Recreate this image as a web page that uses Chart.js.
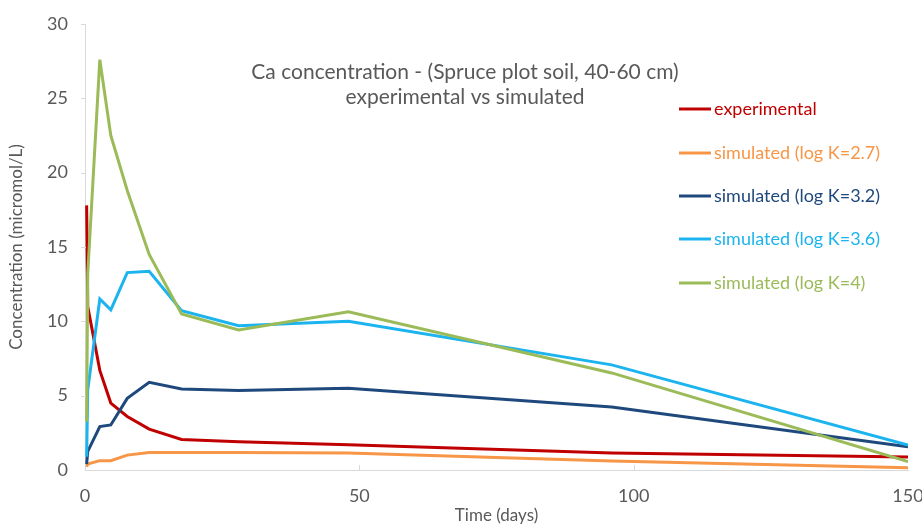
<!DOCTYPE html>
<html>
<head>
<meta charset="utf-8">
<script src="https://cdn.jsdelivr.net/npm/chart.js@4.4.1/dist/chart.umd.min.js"></script>
<style>
  html, body { margin: 0; padding: 0; background: #fff; }
  #wrap { width: 922px; height: 527px; }
</style>
</head>
<body>
<div id="wrap"><canvas id="lineChart" width="922" height="527"></canvas></div>
<script>
// --- donnees ---
var days = [0.3, 0.5, 2.7, 4.7, 7.7, 11.7, 17.6, 28, 48, 96, 150];
var experimental = [17.8, 11.0, 6.7, 4.5, 3.6, 2.75, 2.05, 1.9, 1.7, 1.15, 0.88];
var simLogK27 = [0.22, 0.4, 0.63, 0.63, 1.0, 1.17, 1.17, 1.17, 1.15, 0.6, 0.15];
var simLogK32 = [0.4, 1.25, 2.92, 3.03, 4.82, 5.9, 5.45, 5.34, 5.5, 4.24, 1.57];
var simLogK36 = [0.9, 5.4, 11.5, 10.77, 13.28, 13.37, 10.72, 9.71, 10.0, 7.07, 1.68];
var simLogK4 = [3.25, 13.2, 27.6, 22.5, 18.8, 14.5, 10.5, 9.42, 10.65, 6.53, 0.56];

var seriesLabels = ["experimental", "simulated (log K=2.7)", "simulated (log K=3.2)",
    "simulated (log K=3.6)", "simulated (log K=4)"];
var seriesColors = ["#C00000", "#F79646", "#1F497D", "#1CB4EE", "#9BBB59"];
var titleLines = ["Ca concentration - (Spruce plot soil, 40-60 cm)", "experimental vs simulated"];
var yTicks = [0, 5, 10, 15, 20, 25, 30];
var xTicks = [0, 50, 100, 150];

var FONT = "Lato";
var GREY = "#595959";

function points(values) {
    var pts = [];
    for (var i = 0; i < days.length; i++) {
        pts.push({ x: days[i], y: values[i] });
    }
    return pts;
}

function TraitGraph(label, values, color) {
    return {
        label: label,
        data: points(values),
        borderColor: color,
        backgroundColor: color,
        borderWidth: 3,
        pointRadius: 0,
        showLine: true,
        tension: 0,
        fill: false
    };
}

var allSeries = [experimental, simLogK27, simLogK32, simLogK36, simLogK4];
// ordre de dessin : le vert en dessous comme dans excel
var dataset = [];
for (var i = allSeries.length - 1; i >= 0; i--) {
    dataset.push(TraitGraph(seriesLabels[i], allSeries[i], seriesColors[i]));
}

// titre, legende et petites graduations
var overlay = {
    id: 'overlay',
    afterDraw: function (chart) {
        var ctx = chart.ctx;
        var xs = chart.scales.x, ys = chart.scales.y;
        ctx.save();

        // graduations vers l'interieur
        ctx.strokeStyle = "#D9D9D9";
        ctx.lineWidth = 1;
        for (var k = 1; k < yTicks.length; k++) {
            var py = Math.round(ys.getPixelForValue(yTicks[k])) + 0.5;
            ctx.beginPath();
            ctx.moveTo(xs.left - 4, py);
            ctx.lineTo(xs.left + 1, py);
            ctx.stroke();
        }
        for (var k = 1; k < xTicks.length - 1; k++) {
            var px = Math.round(xs.getPixelForValue(xTicks[k])) + 0.5;
            ctx.beginPath();
            ctx.moveTo(px, ys.bottom);
            ctx.lineTo(px, ys.bottom - 5);
            ctx.stroke();
        }

        // titre
        ctx.fillStyle = GREY;
        ctx.font = "21px " + FONT;
        ctx.textAlign = "center";
        ctx.textBaseline = "middle";
        ctx.fillText(titleLines[0], 465, 72);
        ctx.fillText(titleLines[1], 465, 97);

        // legende
        var rows = [109, 153, 196, 239, 283];
        ctx.font = "18px " + FONT;
        ctx.textAlign = "left";
        for (var j = 0; j < seriesLabels.length; j++) {
            ctx.strokeStyle = seriesColors[j];
            ctx.lineWidth = 3;
            ctx.beginPath();
            ctx.moveTo(679, rows[j]);
            ctx.lineTo(711, rows[j]);
            ctx.stroke();
            ctx.fillStyle = seriesColors[j];
            ctx.fillText(seriesLabels[j], 714, rows[j]);
        }
        ctx.restore();
    }
};

new Chart(document.getElementById("lineChart").getContext('2d'), {
    type: 'scatter',
    data: { datasets: dataset },
    options: {
        responsive: false,
        animation: false,
        layout: { padding: { top: 24, right: 14, left: 0, bottom: 0 } },
        plugins: {
            legend: { display: false },
            tooltip: { enabled: false }
        },
        scales: {
            x: {
                type: 'linear',
                min: 0,
                max: 150,
                afterBuildTicks: function (scale) {
                    scale.ticks = xTicks.map(function (v) { return { value: v }; });
                },
                afterFit: function (scale) {
                    scale.height = 57;
                    scale.paddingLeft = 0;
                    scale.paddingRight = 0;
                },
                grid: { display: false, drawTicks: false },
                border: { display: true, color: "#D9D9D9", width: 1 },
                ticks: { color: GREY, font: { family: FONT, size: 18 }, padding: 15, maxRotation: 0 },
                title: { display: true, text: "Time (days)", color: GREY, font: { family: FONT, size: 17 }, padding: { top: 0, bottom: 1 } }
            },
            y: {
                type: 'linear',
                min: 0,
                max: 30,
                afterBuildTicks: function (scale) {
                    scale.ticks = yTicks.map(function (v) { return { value: v }; });
                },
                afterFit: function (scale) {
                    scale.width = 85;
                    scale.paddingTop = 0;
                    scale.paddingBottom = 0;
                },
                grid: { display: false, drawTicks: false },
                border: { display: true, color: "#D9D9D9", width: 1 },
                ticks: { color: GREY, font: { family: FONT, size: 18 }, padding: 17 },
                title: { display: true, text: "Concentration (micromol/L)", color: GREY, font: { family: FONT, size: 17 }, padding: { top: 6, bottom: 0 } }
            }
        }
    },
    plugins: [overlay]
});
</script>
</body>
</html>
